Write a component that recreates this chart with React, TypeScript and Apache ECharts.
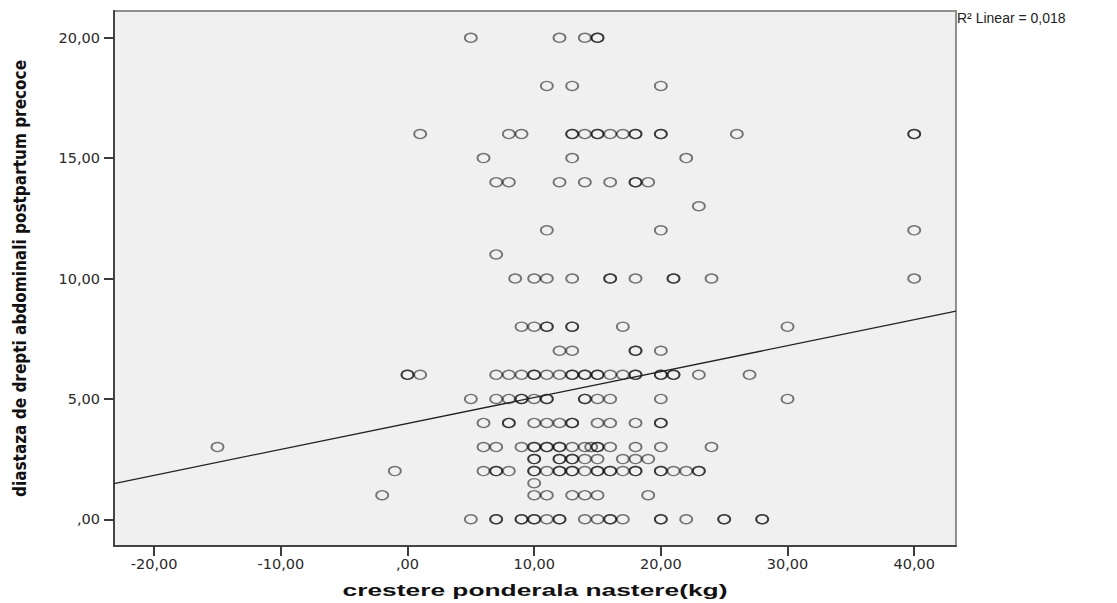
import React, { useEffect, useRef } from 'react';
import * as echarts from 'echarts';

// Diastasis levels (y) and the weight-gain values (x) observed at each level
const diastasisLevels = [20, 18, 16, 15, 14, 13, 12, 11, 10, 8, 7, 6, 5, 4, 3, 2.5, 2, 1.5, 1, 0];
const growthByLevel: number[][] = [
  [5, 12, 14, 15, 15],
  [11, 13, 20],
  [1, 8, 9, 13, 13, 14, 15, 15, 16, 17, 18, 18, 20, 20, 26, 40, 40],
  [6, 13, 22],
  [7, 8, 12, 14, 16, 18, 18, 19],
  [23],
  [11, 20, 40],
  [7],
  [8.5, 10, 11, 13, 16, 16, 18, 21, 21, 24, 40],
  [9, 10, 11, 11, 13, 13, 17, 30],
  [12, 13, 18, 18, 20],
  [0, 0, 1, 7, 8, 9, 10, 10, 11, 12, 13, 13, 14, 14, 15, 15, 16, 17, 18, 18, 20, 20, 21, 21, 23, 27],
  [5, 7, 8, 9, 9, 10, 11, 11, 14, 14, 15, 16, 20, 30],
  [6, 8, 8, 10, 11, 12, 13, 13, 15, 16, 18, 20, 20],
  [-15, 6, 7, 9, 10, 10, 11, 11, 12, 12, 13, 14, 14.5, 15, 15, 16, 18, 20, 24],
  [10, 10, 12, 12, 13, 13, 14, 15, 17, 18, 19],
  [-1, 6, 7, 7, 8, 10, 10, 11, 12, 12, 13, 13, 14, 15, 15, 16, 16, 17, 18, 18, 20, 20, 21, 22, 23, 23],
  [10],
  [-2, 10, 11, 13, 14, 15, 19],
  [5, 7, 7, 9, 9, 10, 10, 11, 12, 12, 14, 15, 16, 16, 17, 20, 20, 22, 25, 25, 28, 28],
];

// Axis ranges and ticks
const xRange = [-23.17, 43.3];
const yRange = [-1.11, 21.11];
const xTicks = [-20, -10, 0, 10, 20, 30, 40];
const xTickLabels = ['-20,00', '-10,00', ',00', '10,00', '20,00', '30,00', '40,00'];
const yTicks = [0, 5, 10, 15, 20];
const yTickLabels = [',00', '5,00', '10,00', '15,00', '20,00'];

// Fit line
const fitIntercept = 3.98;
const fitSlope = 0.1077;
const r2Label = 'R² Linear = 0,018';

const xTitle = 'crestere ponderala nastere(kg)';
const yTitle = 'diastaza de drepti abdominali postpartum precoce';

export default function App() {
  const ref = useRef<HTMLDivElement>(null);
  useEffect(() => {
    document.body.style.margin = '0';
    const chart = echarts.init(ref.current!, null, { renderer: 'svg' });
    const points: number[][] = [];
    diastasisLevels.forEach((y, i) => {
      growthByLevel[i].forEach((x) => points.push([x, y]));
    });
    const fitLine = xRange.map((x) => [x, fitIntercept + fitSlope * x]);
    const labelFont = { fontFamily: 'DejaVu Sans', fontSize: 14.5, color: '#2a2a2a' };
    chart.setOption({
      animation: false,
      backgroundColor: '#ffffff',
      grid: {
        left: 114,
        top: 11,
        right: 161,
        bottom: 57,
        show: true,
        backgroundColor: '#f0f0f0',
        borderColor: '#8f8f8f',
        borderWidth: 2,
      },
      xAxis: {
        type: 'value',
        min: xRange[0],
        max: xRange[1],
        axisLine: { show: true, onZero: false, lineStyle: { color: '#444', width: 2 } },
        axisTick: { show: true, inside: false, length: 10, lineStyle: { color: '#3c3c3c', width: 2 }, customValues: xTicks },
        axisLabel: {
          ...labelFont,
          margin: 10,
          customValues: xTicks,
          formatter: (v: number) => xTickLabels[xTicks.indexOf(v)] ?? '',
        },
        splitLine: { show: false },
      },
      yAxis: {
        type: 'value',
        min: yRange[0],
        max: yRange[1],
        name: yTitle,
        nameLocation: 'middle',
        nameRotate: 90,
        nameGap: 86,
        nameTextStyle: {
          fontFamily: '"Liberation Sans Narrow", "DejaVu Sans Condensed", "Liberation Sans"',
          fontWeight: 'bold',
          fontSize: 17,
          color: '#111',
        },
        axisLine: { show: true, onZero: false, lineStyle: { color: '#444', width: 2 } },
        axisTick: { show: true, inside: false, length: 10, lineStyle: { color: '#3c3c3c', width: 2 }, customValues: yTicks },
        axisLabel: {
          ...labelFont,
          margin: 14,
          customValues: yTicks,
          formatter: (v: number) => yTickLabels[yTicks.indexOf(v)] ?? '',
        },
        splitLine: { show: false },
      },
      graphic: [
        {
          type: 'text',
          left: 957,
          top: 11,
          style: { text: r2Label, font: '14px "Liberation Sans"', fill: '#222' },
        },
        {
          type: 'text',
          x: 535,
          y: 590,
          scaleX: 1.55,
          style: {
            text: xTitle,
            x: 0,
            y: 0,
            align: 'center',
            verticalAlign: 'middle',
            font: 'bold 17px "Liberation Sans"',
            fill: '#111',
          },
        },
      ],
      series: [
        {
          type: 'line',
          data: fitLine,
          symbol: 'none',
          lineStyle: { color: '#222', width: 1.3 },
          z: 3,
        },
        {
          type: 'scatter',
          data: points,
          symbol: 'circle',
          symbolSize: [12, 9],
          itemStyle: { color: 'rgba(0,0,0,0)', borderColor: 'rgba(0,0,0,0.65)', borderWidth: 1.6 },
          z: 2,
        },
      ],
    });
    return () => chart.dispose();
  }, []);
  return <div ref={ref} style={{ width: 1117, height: 603 }} />;
}
